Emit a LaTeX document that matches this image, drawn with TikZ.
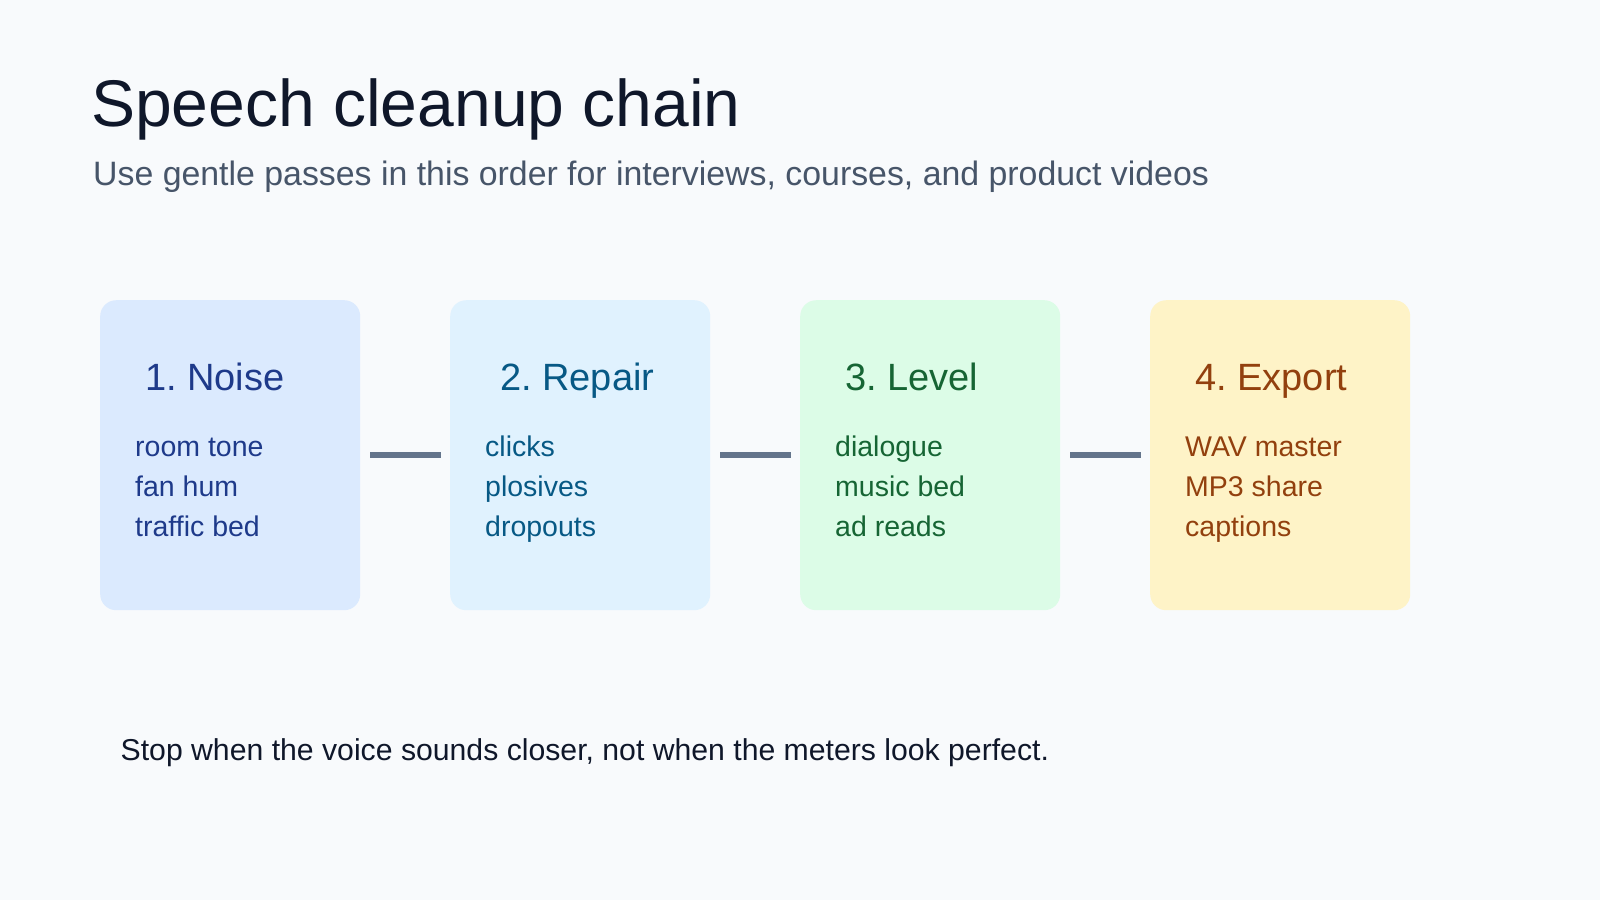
\documentclass[tikz,border=0pt]{standalone}
\usepackage{fontspec}
\setmainfont{Liberation Sans}
\usepackage{tikz}
\usetikzlibrary{positioning}
\usetikzlibrary{calc}
\frenchspacing

\definecolor{pagebg}{HTML}{F8FAFC}
\definecolor{titleink}{HTML}{0F172A}
\definecolor{subink}{HTML}{475569}
\definecolor{linkgray}{HTML}{64748B}
\definecolor{noisefill}{HTML}{DBEAFE}
\definecolor{noiseink}{HTML}{1E3A8A}
\definecolor{repairfill}{HTML}{E0F2FE}
\definecolor{repairink}{HTML}{075985}
\definecolor{levelfill}{HTML}{DCFCE7}
\definecolor{levelink}{HTML}{166534}
\definecolor{exportfill}{HTML}{FEF3C7}
\definecolor{exportink}{HTML}{92400E}

\tikzset{
  stage/.style={rounded corners=16pt, minimum width=260pt, minimum height=310pt,
    inner sep=0pt, anchor=north west},
  stagetitle/.style={anchor=base west, inner sep=0pt, font=\fontsize{38}{45}\selectfont},
  stageitem/.style={anchor=base west, inner sep=0pt, font=\fontsize{28.5}{34}\selectfont},
  link/.style={line width=6pt, draw=linkgray, shorten <=10pt, shorten >=9pt},
}

\begin{document}
\begin{tikzpicture}[x=1pt,y=-1pt]

      \fill[pagebg] (0,0) rectangle (1600,900);
      \useasboundingbox (0,0) rectangle (1600,900);

      \def\headdx{45}
      \def\itemdx{35}

      \node (title) at (91,126) [anchor=base west, inner sep=0pt, text=titleink,
        font=\fontsize{66}{79}\selectfont] {Speech cleanup chain};
      \node (subtitle) at (93,185) [anchor=base west, inner sep=0pt, text=subink,
        font=\fontsize{33.85}{41}\selectfont]
        {Use gentle passes in this order for interviews, courses, and product videos};

      % stage 1
      \node (noise) at (100,300) [stage, fill=noisefill] {};
      \node (noisehead) at ($(noise.north west)+(\headdx,90)$) [stagetitle, text=noiseink] {1. Noise};
      \node (noiseA) at ($(noise.north west)+(\itemdx,156)$) [stageitem, text=noiseink] {room tone};
      \node (noiseB) at ($(noise.north west)+(\itemdx,196)$) [stageitem, text=noiseink] {fan hum};
      \node (noiseC) at ($(noise.north west)+(\itemdx,236)$) [stageitem, text=noiseink] {traffic bed};

      % stage 2
      \node (repair) at (450,300) [stage, fill=repairfill] {};
      \node (repairhead) at ($(repair.north west)+(\headdx+5,90)$) [stagetitle, text=repairink] {2. Repair};
      \node (repairA) at ($(repair.north west)+(\itemdx,156)$) [stageitem, text=repairink] {clicks};
      \node (repairB) at ($(repair.north west)+(\itemdx,196)$) [stageitem, text=repairink] {plosives};
      \node (repairC) at ($(repair.north west)+(\itemdx,236)$) [stageitem, text=repairink] {dropouts};

      % stage 3
      \node (level) at (800,300) [stage, fill=levelfill] {};
      \node (levelhead) at ($(level.north west)+(\headdx,90)$) [stagetitle, text=levelink] {3. Level};
      \node (levelA) at ($(level.north west)+(\itemdx,156)$) [stageitem, text=levelink] {dialogue};
      \node (levelB) at ($(level.north west)+(\itemdx,196)$) [stageitem, text=levelink] {music bed};
      \node (levelC) at ($(level.north west)+(\itemdx,236)$) [stageitem, text=levelink] {ad reads};

      % stage 4
      \node (export) at (1150,300) [stage, fill=exportfill] {};
      \node (exporthead) at ($(export.north west)+(\headdx,90)$) [stagetitle, text=exportink] {4. Export};
      \node (exportA) at ($(export.north west)+(\itemdx,156)$) [stageitem, text=exportink] {WAV master};
      \node (exportB) at ($(export.north west)+(\itemdx,196)$) [stageitem, text=exportink] {MP3 share};
      \node (exportC) at ($(export.north west)+(\itemdx,236)$) [stageitem, text=exportink] {captions};

      \foreach \StageA/\StageB in {noise/repair, repair/level, level/export} {
        \draw[link] (\StageA.east) -- (\StageB.west);
      }

      \node (footnote) at (120.5,760) [anchor=base west, inner sep=0pt, text=titleink,
        font=\fontsize{30.2}{36}\selectfont]
        {Stop when the voice sounds closer, not when the meters look perfect.};

\end{tikzpicture}
\end{document}
